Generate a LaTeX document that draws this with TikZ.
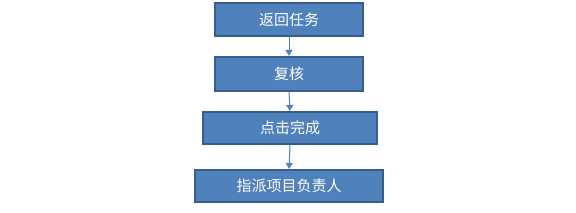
\documentclass[tikz,border=0pt]{standalone}
\usepackage{fontspec}
\newfontfamily\cjk{Noto Sans CJK SC}
\usetikzlibrary{arrows.meta}
\definecolor{boxfill}{HTML}{4F81BD}
\definecolor{boxline}{HTML}{385D8A}
\tikzset{
  flowbox/.style={draw=boxline, line width=2.2pt, fill=boxfill, text=white, inner sep=0pt, font=\cjk\fontsize{15}{17}\selectfont},
  flowarrow/.style={draw=boxfill, line width=1pt, -{Triangle[length=6pt,width=7pt]}}
}
\begin{document}
\begin{tikzpicture}[x=1pt,y=-1pt]
\useasboundingbox (0,0) rectangle (576,212);
\node[flowbox, minimum width=148pt, minimum height=33pt] (a) at (289,19.5) {返回任务};
\node[flowbox, minimum width=148pt, minimum height=34pt] (b) at (289,74) {复核};
\node[flowbox, minimum width=174pt, minimum height=32pt] (c) at (290,128) {点击完成};
\node[flowbox, minimum width=188pt, minimum height=32pt] (d) at (289,186) {指派项目负责人};
\draw[flowarrow] (a.south) -- (b.north);
\draw[flowarrow] (b.south) -- (c.north);
\draw[flowarrow] (c.south) -- (d.north);
\end{tikzpicture}
\end{document}
